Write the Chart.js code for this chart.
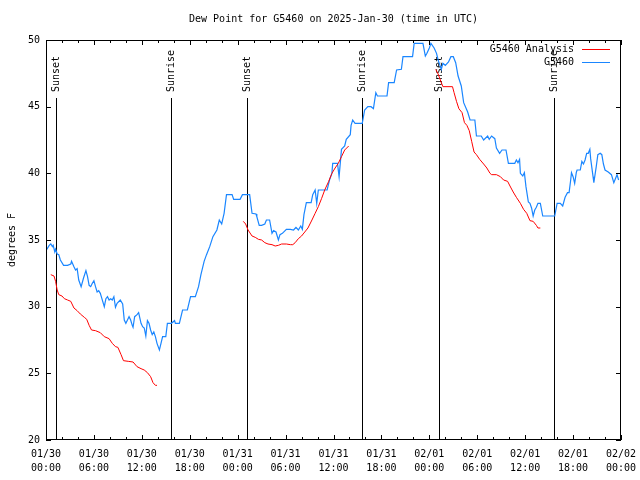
<!DOCTYPE html>
<html>
<head>
<meta charset="utf-8">
<title>Dew Point for G5460</title>
<script src="https://cdn.jsdelivr.net/npm/chart.js@4.4.1/dist/chart.umd.min.js"></script>
<style>
  html, body { margin: 0; padding: 0; background: #fff; }
  canvas { display: block; }
</style>
</head>
<body>
<canvas id="dewChart" width="640" height="480"></canvas>
<script>
// time is hours after 01/30 00:00 UTC, dew point in degrees F
const obsHours = [0.1, 0.4, 0.6, 0.8, 0.9, 1.1, 1.2, 1.4, 1.6, 1.8, 2.2, 2.7, 3.1, 3.2, 3.5, 3.7, 3.9, 4.1, 4.4, 4.7,
  5.0, 5.2, 5.4, 5.6, 5.8, 6.0, 6.2, 6.4, 6.6, 6.8, 7.0, 7.3, 7.5, 7.7, 7.9, 8.1, 8.3, 8.5, 8.7, 8.9,
  9.3, 9.6, 9.8, 10.0, 10.2, 10.4, 10.6, 10.8, 10.9, 11.1, 11.4, 11.6, 11.9, 12.1, 12.3, 12.5, 12.7, 12.9, 13.1, 13.3,
  13.5, 13.7, 13.9, 14.2, 14.4, 14.6, 15.0, 15.2, 15.7, 16.1, 16.2, 16.7, 17.1, 17.7, 18.1, 18.7, 19.1, 19.4, 19.8, 20.1,
  20.5, 20.9, 21.4, 21.7, 22.0, 22.3, 22.6, 23.3, 23.5, 24.3, 24.6, 25.5, 25.8, 26.3, 26.4, 26.7, 27.0, 27.4, 27.6, 28.0,
  28.3, 28.5, 28.8, 29.1, 29.3, 29.6, 30.1, 30.6, 31.0, 31.3, 31.6, 31.9, 32.1, 32.3, 32.6, 33.2, 33.4, 33.7, 33.9, 34.1,
  35.2, 35.5, 35.8, 35.9, 36.5, 36.7, 36.9, 37.0, 37.4, 37.6, 38.1, 38.2, 38.4, 38.7, 39.6, 39.9, 40.3, 40.7, 41.0, 41.3,
  41.5, 42.7, 42.9, 43.6, 43.9, 44.5, 44.7, 45.9, 46.1, 47.2, 47.5, 47.7, 48.0, 48.2, 48.6, 48.9, 49.1, 49.5, 49.7, 50.0,
  50.4, 50.7, 51.0, 51.3, 51.6, 52.0, 52.3, 52.8, 53.1, 53.7, 53.9, 54.5, 54.8, 55.3, 55.5, 55.8, 56.2, 56.4, 56.8, 57.1,
  57.6, 57.9, 58.7, 58.9, 59.1, 59.3, 59.4, 59.7, 59.9, 60.1, 60.4, 60.6, 60.8, 61.0, 61.2, 61.4, 61.6, 61.9, 62.2, 63.7,
  64.0, 64.4, 64.7, 65.0, 65.3, 65.5, 65.7, 65.8, 66.0, 66.2, 66.4, 66.5, 66.9, 67.1, 67.3, 67.5, 67.7, 67.9, 68.1, 68.2,
  68.5, 68.6, 68.9, 69.1, 69.4, 69.6, 69.8, 70.0, 70.4, 70.8, 71.1, 71.4, 71.5, 71.7];
const obsDewpt = [34.3, 34.6, 34.7, 34.5, 34.6, 34.1, 34.3, 33.95, 33.9, 33.5, 33.1, 33.1, 33.2, 33.4, 33.0, 32.75, 32.85, 32.0, 31.5, 32.15,
  32.7, 32.25, 31.6, 31.5, 31.75, 31.95, 31.5, 31.1, 31.2, 31.0, 30.6, 30.0, 30.6, 30.75, 30.5, 30.6, 30.5, 30.75, 29.95, 30.25,
  30.5, 30.2, 29.0, 28.75, 29.0, 29.25, 29.0, 28.6, 28.45, 29.25, 29.4, 29.55, 28.75, 28.5, 28.4, 27.8, 28.95, 28.75, 28.25, 27.9,
  28.1, 27.75, 27.25, 26.75, 27.25, 27.75, 27.75, 28.75, 28.75, 28.95, 28.75, 28.75, 29.75, 29.75, 30.75, 30.75, 31.5, 32.4, 33.4, 33.9,
  34.5, 35.25, 35.75, 36.5, 36.2, 37.0, 38.4, 38.4, 38.05, 38.05, 38.4, 38.4, 37.0, 36.95, 36.75, 36.1, 36.1, 36.2, 36.5, 36.5,
  35.5, 35.7, 35.6, 35.0, 35.4, 35.5, 35.8, 35.8, 35.75, 35.95, 35.75, 36.05, 35.8, 36.9, 37.8, 37.8, 38.4, 38.75, 37.75, 38.75,
  38.75, 39.5, 40.0, 40.75, 40.75, 39.75, 41.1, 41.8, 42.05, 42.55, 42.9, 43.6, 44.0, 43.75, 43.75, 44.75, 45.0, 45.0, 44.85, 46.05,
  45.8, 45.8, 46.8, 46.8, 47.75, 47.8, 48.75, 48.75, 49.75, 49.75, 48.8, 49.0, 49.4, 49.75, 49.4, 49.0, 48.5, 47.8, 48.25, 48.1,
  48.35, 48.75, 48.75, 48.3, 47.3, 46.55, 45.3, 44.6, 44.0, 44.0, 42.8, 42.8, 42.5, 42.8, 42.55, 42.8, 42.6, 41.9, 41.5, 41.75,
  41.75, 40.75, 40.75, 41.0, 40.8, 41.05, 40.0, 39.8, 40.05, 39.0, 37.85, 37.75, 37.4, 36.8, 37.25, 37.45, 37.75, 37.75, 36.8, 36.8,
  37.75, 37.75, 37.55, 38.2, 38.55, 38.55, 39.5, 40.05, 39.75, 39.25, 40.05, 40.25, 40.25, 40.9, 40.7, 41.0, 41.5, 41.5, 41.8, 41.1,
  39.75, 39.3, 40.5, 41.4, 41.5, 41.4, 40.7, 40.25, 40.1, 39.9, 39.3, 39.75, 39.9, 39.5];

// analysis runs, null marks a break between runs
const anaHours = [0.6, 1.0, 1.2, 1.4, 1.6, 2.0, 2.3, 2.7, 3.1, 3.5, 3.9, 4.3, 4.8, 5.1, 5.4, 5.7, 6.2, 6.8, 7.3, 7.9,
  8.3, 8.7, 9.0, 9.4, 9.7, 10.3, 10.9, 11.4, 11.9, 12.3, 12.7, 13.1, 13.4, 13.7, 13.9,
  19.0,
  24.7, 25.0, 25.3, 25.8, 26.2, 26.6, 27.0, 27.4, 27.8, 28.3, 28.7, 29.1, 29.5, 30.1, 30.6, 30.9, 31.2, 31.6, 32.0, 32.4,
  32.8, 33.3, 33.7, 34.1, 34.5, 34.9, 35.4, 35.8, 36.2, 36.6, 37.0, 37.4, 37.9,
  43.0,
  48.8, 49.1, 49.5, 49.7, 50.9, 51.1, 51.4, 51.7, 52.1, 52.4, 52.7, 53.0, 53.3, 53.6, 53.9, 54.3, 54.8, 55.2, 55.6, 55.8,
  56.4, 56.9, 57.3, 57.8, 58.1, 58.5, 58.9, 59.4, 59.8, 60.2, 60.6, 61.0, 61.4, 61.6, 61.9];
const anaDewpt = [32.4, 32.3, 31.9, 31.25, 30.9, 30.8, 30.6, 30.5, 30.4, 29.9, 29.7, 29.45, 29.2, 29.05, 28.6, 28.25, 28.2, 28.05, 27.75, 27.6,
  27.25, 27.0, 26.95, 26.4, 25.95, 25.9, 25.85, 25.5, 25.35, 25.25, 25.05, 24.75, 24.3, 24.1, 24.1,
  null,
  36.4, 36.2, 35.75, 35.3, 35.2, 35.05, 35.0, 34.8, 34.7, 34.65, 34.55, 34.6, 34.7, 34.7, 34.65, 34.65, 34.8, 35.1, 35.3, 35.6,
  35.9, 36.5, 37.0, 37.5, 38.1, 38.75, 39.4, 40.0, 40.4, 40.75, 41.25, 41.75, 42.05,
  null,
  47.8, 47.45, 46.8, 46.5, 46.5, 46.05, 45.4, 44.85, 44.55, 43.8, 43.6, 43.2, 42.4, 41.6, 41.4, 41.05, 40.7, 40.4, 40.0, 39.9,
  39.9, 39.75, 39.5, 39.4, 39.05, 38.6, 38.2, 37.75, 37.3, 37.0, 36.45, 36.4, 36.1, 35.9, 35.9];

const sunHours = [1.2, 15.7, 25.2, 39.6, 49.2, 63.65];
const sunLabels = ["Sunset", "Sunrise", "Sunset", "Sunrise", "Sunset", "Sunrise"];

const dayLabels = ["01/30", "01/30", "01/30", "01/30", "01/31", "01/31", "01/31", "01/31", "02/01", "02/01", "02/01", "02/01", "02/02"];
const timeLabels = ["00:00", "06:00", "12:00", "18:00", "00:00", "06:00", "12:00", "18:00", "00:00", "06:00", "12:00", "18:00", "00:00"];

const FONT = "'DejaVu Sans Mono', 'Liberation Mono', monospace";
Chart.defaults.font.family = FONT;
Chart.defaults.font.size = 10;
Chart.defaults.color = "#000";

function toPoints(xs, ys) {
  return xs.map((x, i) => ({ x: x, y: ys[i] }));
}

// gnuplot look: box border, inward ticks, sunrise/sunset markers, legend in the corner
const gnuplotFrame = {
  id: "gnuplotFrame",
  beforeDatasetsDraw(chart) {
    const { ctx, chartArea: a, scales: { x } } = chart;
    ctx.save();
    ctx.strokeStyle = "#000";
    ctx.lineWidth = 1;
    ctx.fillStyle = "#000";
    ctx.font = "10px " + FONT;
    sunHours.forEach((h, i) => {
      const px = Math.round(x.getPixelForValue(h)) + 0.5;
      ctx.beginPath();
      ctx.moveTo(px, a.top + 58);
      ctx.lineTo(px, a.bottom);
      ctx.stroke();
      ctx.save();
      ctx.translate(px, a.top + 52);
      ctx.rotate(-Math.PI / 2);
      ctx.textAlign = "left";
      ctx.textBaseline = "middle";
      ctx.fillText(sunLabels[i], 0, 0);
      ctx.restore();
    });
    ctx.restore();
  },
  afterDatasetsDraw(chart) {
    const { ctx, chartArea: a, scales: { x, y } } = chart;
    ctx.save();
    ctx.strokeStyle = "#000";
    ctx.lineWidth = 1;
    ctx.beginPath();
    for (let h = x.min; h <= x.max; h += 2) {
      const px = Math.round(x.getPixelForValue(h)) + 0.5;
      const len = h % 6 === 0 ? 5 : 3;
      ctx.moveTo(px, a.bottom); ctx.lineTo(px, a.bottom - len);
      ctx.moveTo(px, a.top); ctx.lineTo(px, a.top + len);
    }
    for (let v = y.min; v <= y.max; v += 5) {
      const py = Math.round(y.getPixelForValue(v)) + 0.5;
      ctx.moveTo(a.left, py); ctx.lineTo(a.left + 5, py);
      ctx.moveTo(a.right, py); ctx.lineTo(a.right - 5, py);
    }
    ctx.stroke();
    ctx.strokeRect(a.left + 0.5, a.top + 0.5, a.right - a.left - 1, a.bottom - a.top - 1);

    // legend, text right-aligned with a line sample after it
    ctx.font = "10px " + FONT;
    ctx.textAlign = "right";
    ctx.textBaseline = "middle";
    chart.data.datasets.forEach((ds, i) => {
      const ly = a.top + 9.5 + i * 13;
      ctx.fillStyle = "#000";
      ctx.fillText(ds.label, a.right - 47, ly);
      ctx.strokeStyle = ds.borderColor;
      ctx.beginPath();
      ctx.moveTo(a.right - 39, ly);
      ctx.lineTo(a.right - 11, ly);
      ctx.stroke();
    });
    ctx.restore();
  }
};

const ctx = document.getElementById("dewChart").getContext("2d");
const dewChart = new Chart(ctx, {
  type: "line",
  data: {
    datasets: [
      {
        label: "G5460 Analysis",
        data: toPoints(anaHours, anaDewpt),
        borderColor: "#ff0000",
        borderWidth: 1,
        pointRadius: 0,
        spanGaps: false,
        tension: 0,
      },
      {
        label: "G5460",
        data: toPoints(obsHours, obsDewpt),
        borderColor: "#1a86ff",
        borderWidth: 1.2,
        pointRadius: 0,
        tension: 0,
      },
    ],
  },
  options: {
    responsive: false,
    animation: false,
    layout: { padding: { left: 0, right: 19, top: 0, bottom: 0 } },
    plugins: {
      legend: { display: false },
      tooltip: { enabled: false },
      title: {
        display: true,
        text: "Dew Point for G5460 on 2025-Jan-30 (time in UTC)",
        fullSize: false,
        font: { size: 10, weight: "normal", lineHeight: 1.2 },
        color: "#000",
        padding: { top: 13, bottom: 15 },
      },
    },
    scales: {
      x: {
        type: "linear",
        min: 0,
        max: 72,
        grid: { display: false, drawTicks: false },
        border: { display: false },
        ticks: {
          stepSize: 6,
          autoSkip: false,
          maxRotation: 0,
          padding: 7,
          font: { size: 10, lineHeight: 1.4 },
          callback: (v) => [dayLabels[v / 6], timeLabels[v / 6]],
        },
        afterFit: (scale) => {
          scale.height = 40;
          scale.paddingLeft = 0;
          scale.paddingRight = 0;
        },
      },
      y: {
        min: 20,
        max: 50,
        grid: { display: false, drawTicks: false },
        border: { display: false },
        ticks: { stepSize: 5, padding: 6 },
        title: { display: true, text: "degrees F", padding: { top: 6, bottom: 0 } },
        afterFit: (scale) => { scale.width = 46; },
      },
    },
  },
  plugins: [gnuplotFrame],
});
</script>
</body>
</html>
